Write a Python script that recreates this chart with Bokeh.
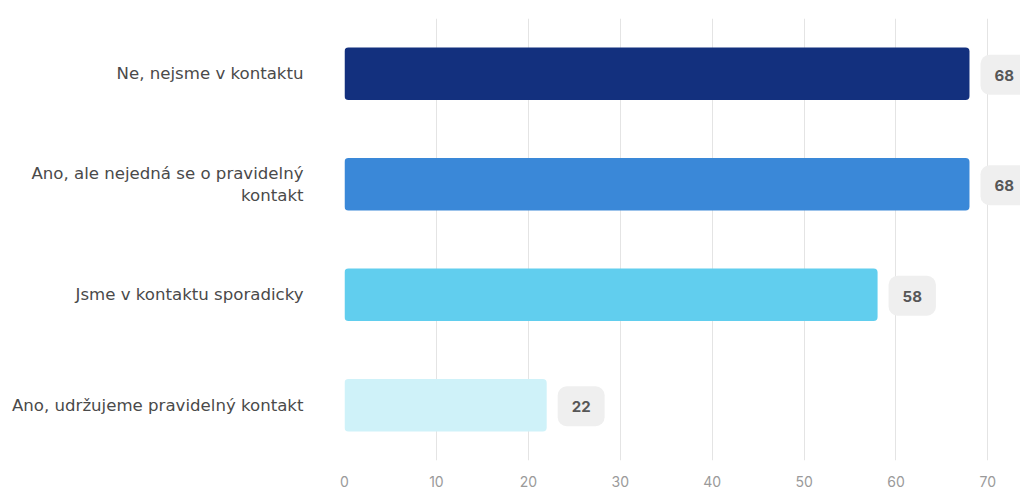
from bokeh.plotting import figure
from bokeh.models import ColumnDataSource, Range1d, FactorRange, FixedTicker
from bokeh.core.properties import value
from bokeh.embed import file_html
from bokeh.resources import INLINE

categories = ["Ne, nejsme v kontaktu",
              "Ano, ale nejedná se o pravidelný\nkontakt",
              "Jsme v kontaktu sporadicky",
              "Ano, udržujeme pravidelný kontakt"]
values = [68, 68, 58, 22]
colors = ["#13307E", "#3A88D8", "#61CEEE", "#CFF2F9"]
x_ticks = [0, 10, 20, 30, 40, 50, 60, 70]

src = ColumnDataSource(dict(cat=categories, val=values, color=colors,
                            lab=[str(v) for v in values]))

p = figure(width=1020, height=489, output_backend="svg", toolbar_location=None,
           y_range=FactorRange(*categories[::-1], range_padding=0),
           x_range=Range1d(0, 73.55),
           min_border_left=344, min_border_right=0, min_border_top=18, min_border_bottom=24)
p.outline_line_color = None
p.background_fill_color = "white"

p.hbar(y="cat", right="val", left=0, height=0.475, color="color", source=src,
       line_color=None, border_radius=4)

p.text(x="val", y="cat", text="lab", source=src, x_offset=11, y_offset=1,
       text_align="left", text_baseline="middle",
       text_font=value("Inter"), text_font_size="15px", text_font_style="bold",
       text_color="#575757", background_fill_color="#EFEFEF",
       padding=dict(left=14, right=14, top=15, bottom=14), border_radius=9)

p.xaxis.ticker = FixedTicker(ticks=x_ticks)
p.xaxis.axis_line_color = None
p.xaxis.major_tick_line_color = None
p.xaxis.minor_tick_line_color = None
p.xaxis.major_label_text_color = "#9a9a9a"
p.xaxis.major_label_text_font = "Inter"
p.xaxis.major_label_text_font_size = "14px"
p.xaxis.major_label_standoff = 9

p.yaxis.axis_line_color = None
p.yaxis.major_tick_line_color = None
p.yaxis.minor_tick_line_color = None
p.yaxis.major_label_text_color = "#4a4a4a"
p.yaxis.major_label_text_font = "DejaVu Sans"
p.yaxis.major_label_text_font_size = "16.6px"
p.yaxis.major_label_text_line_height = 1.15
p.yaxis.major_label_standoff = 35

p.xgrid.grid_line_color = "#E4E4E4"
p.xgrid.ticker = FixedTicker(ticks=x_ticks)
p.ygrid.grid_line_color = None

open("out.html", "w").write(file_html(p, INLINE))
